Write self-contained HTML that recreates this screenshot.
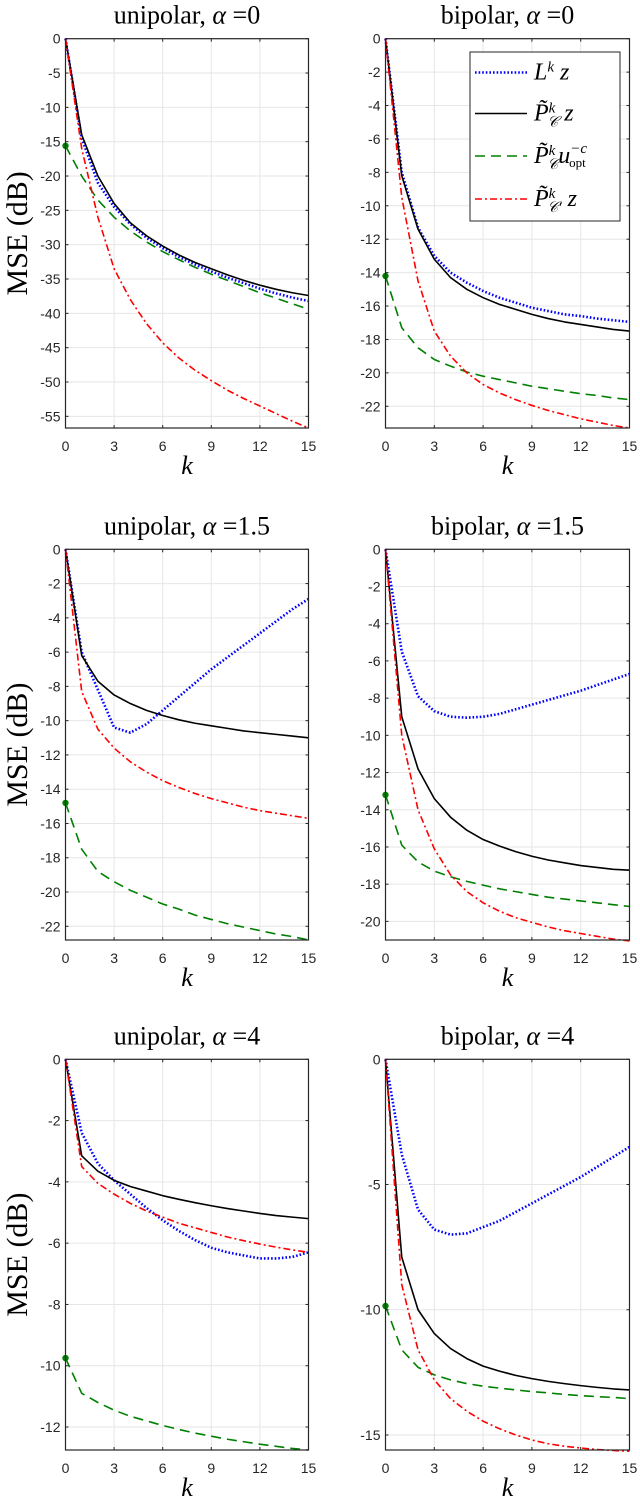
<!DOCTYPE html>
<html><head><meta charset="utf-8">
<style>
html,body{margin:0;padding:0;background:#fff;}
svg{display:block;}
.tick{font-family:"Liberation Sans",sans-serif;font-size:14px;fill:#262626;}
.title{font-family:"Liberation Serif",serif;font-size:26px;fill:#000;}
.klab{font-family:"Liberation Serif",serif;font-style:italic;font-size:26px;fill:#000;}
.ylab{font-family:"Liberation Serif",serif;font-size:30px;fill:#000;}
.leg{font-family:"Liberation Serif",serif;font-style:italic;font-size:24px;fill:#000;}
</style></head>
<body>
<svg id="fig" width="640" height="1502" viewBox="0 0 640 1502" xmlns="http://www.w3.org/2000/svg"></svg>
<script>
const kValues=[0,1,2,3,4,5,6,7,8,9,10,11,12,13,14,15];
const xTicks=[0,3,6,9,12,15];
const panelKinds=["unipolar","bipolar","unipolar","bipolar","unipolar","bipolar"];
const panelAlphas=["0","0","1.5","1.5","4","4"];
const yMins=[-56.7,-23.3,-22.8,-21.0,-12.75,-15.6];
const yTicks1=[0,-5,-10,-15,-20,-25,-30,-35,-40,-45,-50,-55];
const yTicks2=[0,-2,-4,-6,-8,-10,-12,-14,-16,-18,-20,-22];
const yTicks3=[0,-2,-4,-6,-8,-10,-12,-14,-16,-18,-20,-22];
const yTicks4=[0,-2,-4,-6,-8,-10,-12,-14,-16,-18,-20];
const yTicks5=[0,-2,-4,-6,-8,-10,-12];
const yTicks6=[0,-5,-10,-15];
const p1Blue=[0,-14.5,-21,-24.5,-27,-29,-30.5,-31.8,-32.9,-33.9,-34.8,-35.6,-36.4,-37.1,-37.7,-38.2];
const p1Black=[0,-14,-20,-24,-26.8,-28.7,-30.2,-31.5,-32.6,-33.5,-34.4,-35.2,-35.9,-36.5,-37.0,-37.4];
const p1Green=[-15.6,-20,-23.5,-26,-28,-29.6,-31,-32.2,-33.3,-34.3,-35.2,-36.1,-37,-37.8,-38.6,-39.4];
const p1Red=[0,-16,-26,-33.5,-38,-41.5,-44.3,-46.5,-48.3,-49.8,-51.2,-52.4,-53.5,-54.6,-55.7,-56.7];
const p2Blue=[0,-8,-11.3,-13,-14,-14.6,-15.1,-15.5,-15.8,-16.1,-16.3,-16.5,-16.6,-16.75,-16.85,-16.95];
const p2Black=[0,-8.2,-11.4,-13.2,-14.3,-15,-15.5,-15.9,-16.2,-16.5,-16.75,-16.95,-17.1,-17.25,-17.4,-17.5];
const p2Green=[-14.2,-17.3,-18.5,-19.2,-19.6,-19.95,-20.2,-20.4,-20.6,-20.8,-20.95,-21.1,-21.25,-21.35,-21.5,-21.6];
const p2Red=[0,-9.5,-14.5,-17.5,-19,-20,-20.7,-21.2,-21.6,-21.95,-22.25,-22.5,-22.75,-22.95,-23.15,-23.3];
const p3Blue=[0,-6,-8.2,-10.4,-10.7,-10.2,-9.4,-8.6,-7.8,-7,-6.3,-5.6,-4.9,-4.2,-3.5,-2.9];
const p3Black=[0,-6.2,-7.7,-8.5,-9,-9.4,-9.7,-9.95,-10.15,-10.3,-10.45,-10.6,-10.7,-10.8,-10.9,-11.0];
const p3Green=[-14.8,-17.5,-18.8,-19.4,-19.9,-20.3,-20.7,-21.0,-21.35,-21.6,-21.85,-22.05,-22.25,-22.45,-22.6,-22.8];
const p3Red=[0,-8.3,-10.5,-11.6,-12.4,-13,-13.5,-13.9,-14.25,-14.55,-14.8,-15.05,-15.25,-15.4,-15.55,-15.7];
const p4Blue=[0,-5.5,-7.9,-8.7,-9.0,-9.05,-9.0,-8.85,-8.6,-8.35,-8.1,-7.85,-7.6,-7.3,-7.0,-6.7];
const p4Black=[0,-9,-11.8,-13.4,-14.4,-15.1,-15.6,-15.95,-16.25,-16.5,-16.7,-16.85,-17.0,-17.1,-17.2,-17.25];
const p4Green=[-13.2,-15.9,-16.8,-17.3,-17.6,-17.85,-18.05,-18.25,-18.4,-18.55,-18.7,-18.8,-18.9,-19.0,-19.1,-19.2];
const p4Red=[0,-10,-14,-16.1,-17.5,-18.4,-19.0,-19.45,-19.8,-20.05,-20.3,-20.5,-20.65,-20.8,-20.95,-21.05];
const p5Blue=[0,-2.4,-3.4,-3.95,-4.4,-4.85,-5.25,-5.6,-5.9,-6.15,-6.3,-6.4,-6.5,-6.5,-6.45,-6.3];
const p5Black=[0,-3.15,-3.65,-3.95,-4.15,-4.3,-4.45,-4.57,-4.68,-4.78,-4.87,-4.95,-5.03,-5.1,-5.15,-5.2];
const p5Green=[-9.75,-10.9,-11.2,-11.45,-11.65,-11.8,-11.95,-12.08,-12.2,-12.3,-12.4,-12.48,-12.56,-12.63,-12.7,-12.75];
const p5Red=[0,-3.5,-4.05,-4.4,-4.7,-4.95,-5.15,-5.35,-5.5,-5.65,-5.8,-5.92,-6.03,-6.13,-6.22,-6.3];
const p6Blue=[0,-3.8,-6,-6.8,-7.0,-6.95,-6.7,-6.45,-6.1,-5.75,-5.4,-5.05,-4.7,-4.3,-3.9,-3.5];
const p6Black=[0,-7.9,-10,-10.95,-11.55,-11.95,-12.25,-12.45,-12.62,-12.75,-12.86,-12.95,-13.03,-13.1,-13.16,-13.2];
const p6Green=[-9.85,-11.6,-12.3,-12.6,-12.8,-12.95,-13.05,-13.13,-13.2,-13.27,-13.32,-13.38,-13.43,-13.47,-13.5,-13.55];
const p6Red=[0,-9,-11.6,-12.8,-13.55,-14.05,-14.45,-14.75,-15.0,-15.2,-15.35,-15.45,-15.52,-15.58,-15.62,-15.65];

const NS="http://www.w3.org/2000/svg";
const svg=document.getElementById('fig');
function mk(tag,attrs,parent){const e=document.createElementNS(NS,tag);for(const k in attrs)e.setAttribute(k,attrs[k]);(parent||svg).appendChild(e);return e;}

const cols=[[65.5,308.5],[385.5,629.5]];
const rows=[[38.7,428],[549.3,940],[1059.3,1450]];
const panelData=[[p1Blue,p1Black,p1Green,p1Red],[p2Blue,p2Black,p2Green,p2Red],[p3Blue,p3Black,p3Green,p3Red],[p4Blue,p4Black,p4Green,p4Red],[p5Blue,p5Black,p5Green,p5Red],[p6Blue,p6Black,p6Green,p6Red]];
const panelTicks=[yTicks1,yTicks2,yTicks3,yTicks4,yTicks5,yTicks6];
const seriesNames=['blue-Lk-z-line','black-Pc-z-line','green-Pc-uopt-line','red-Pc-prime-z-line'];
const seriesStyle=[
 {stroke:'#0000ff','stroke-width':2.6,'stroke-dasharray':'1.6 2'},
 {stroke:'#000','stroke-width':1.6},
 {stroke:'#008000','stroke-width':1.6,'stroke-dasharray':'10 6'},
 {stroke:'#ff0000','stroke-width':1.6,'stroke-dasharray':'7 3 2 3'}];

for(let p=0;p<6;p++){
  const c=cols[p%2], r=rows[Math.floor(p/2)];
  const x0=c[0],x1=c[1],y0=r[0],y1=r[1];
  const ymin=yMins[p];
  const X=v=>x0+(v-0)/(15-0)*(x1-x0);
  const Y=v=>y0+(0-v)/(0-ymin)*(y1-y0);
  const g=mk('g',{});
  
  
  xTicks.forEach(t=>{
    const l=mk('line',{x1:X(t),x2:X(t),y1:y0,y2:y1,stroke:'#e6e6e6','stroke-width':1},g);
    
    
  });
  panelTicks[p].forEach(t=>{
    const l=mk('line',{x1:x0,x2:x1,y1:Y(t),y2:Y(t),stroke:'#e6e6e6','stroke-width':1},g);
    
    
  });
  panelData[p].forEach((arr,si)=>{
    const pts=arr.map((v,i)=>X(kValues[i]).toFixed(2)+','+Y(v).toFixed(2)).join(' ');
    const attrs=Object.assign({points:pts,fill:'none','stroke-linejoin':'round'},seriesStyle[si]);
    const pl=mk('polyline',attrs,g);
    
    
  });
  const dot=mk('circle',{cx:X(kValues[0]),cy:Y(panelData[p][2][0]),r:3.2,fill:'#008000'},g);
  
  
  const box=mk('rect',{x:x0,y:y0,width:x1-x0,height:y1-y0,fill:'none',stroke:'#262626','stroke-width':1.2},g);
  
  
  xTicks.forEach(t=>{
    mk('line',{x1:X(t),x2:X(t),y1:y1,y2:y1-3,stroke:'#262626'},g);
    mk('line',{x1:X(t),x2:X(t),y1:y0,y2:y0+3,stroke:'#262626'},g);
    const tx=mk('text',{x:X(t),y:y1+23,'text-anchor':'middle',class:'tick'},g);
    tx.textContent=t;
    
    
  });
  panelTicks[p].forEach(t=>{
    mk('line',{x1:x0,x2:x0+3,y1:Y(t),y2:Y(t),stroke:'#262626'},g);
    mk('line',{x1:x1,x2:x1-3,y1:Y(t),y2:Y(t),stroke:'#262626'},g);
    const tx=mk('text',{x:x0-5,y:Y(t)+5,'text-anchor':'end',class:'tick'},g);
    tx.textContent=t;
    
    
  });
  const title=mk('text',{x:(x0+x1)/2,y:y0-15,'text-anchor':'middle',class:'title'},g);
  title.innerHTML=panelKinds[p]+', <tspan font-style="italic">\u03b1</tspan> =' + panelAlphas[p];
  
  
  const kl=mk('text',{x:(x0+x1)/2,y:y1+46,'text-anchor':'middle',class:'klab'},g);
  kl.textContent='k';
  
  
  if(p%2===0){
    const cy=(y0+y1)/2;
    const yl=mk('text',{x:27,y:cy,'text-anchor':'middle',class:'ylab',transform:'rotate(-90 27 '+cy+')'},g);
    yl.textContent='MSE (dB)';
    
    
  }
}
const lg=mk('g',{});


mk('rect',{x:470,y:52,width:150,height:169,fill:'#fff',stroke:'#262626','stroke-width':1},lg);
const legY=[72.5,113.5,156,199];
const legHTML=[
 'L<tspan dy="-8" font-size="15">k</tspan><tspan dy="8"> z</tspan>',
 'P\u0303<tspan dy="-8" font-size="15">k</tspan><tspan dy="14" dx="-8" font-size="15">\ud835\udc9e</tspan><tspan dy="-6"> z</tspan>',
 'P\u0303<tspan dy="-8" font-size="15">k</tspan><tspan dy="14" dx="-8" font-size="15">\ud835\udc9e</tspan><tspan dy="-6">u</tspan><tspan dy="-10" font-size="15">\u2212c</tspan><tspan dy="14" dx="-18" font-size="13" font-style="normal">opt</tspan>',
 'P\u0303<tspan dy="-8" font-size="15">k</tspan><tspan dy="14" dx="-8" font-size="15">\ud835\udc9e\u2032</tspan><tspan dy="-6"> z</tspan>'];
for(let i=0;i<4;i++){
  const l=mk('line',Object.assign({x1:475,x2:527,y1:legY[i],y2:legY[i]},seriesStyle[i]),lg);
  
  
  const t=mk('text',{x:534,y:legY[i]+7,class:'leg'},lg);
  t.innerHTML=legHTML[i];
  
  
}
</script>
</body></html>
